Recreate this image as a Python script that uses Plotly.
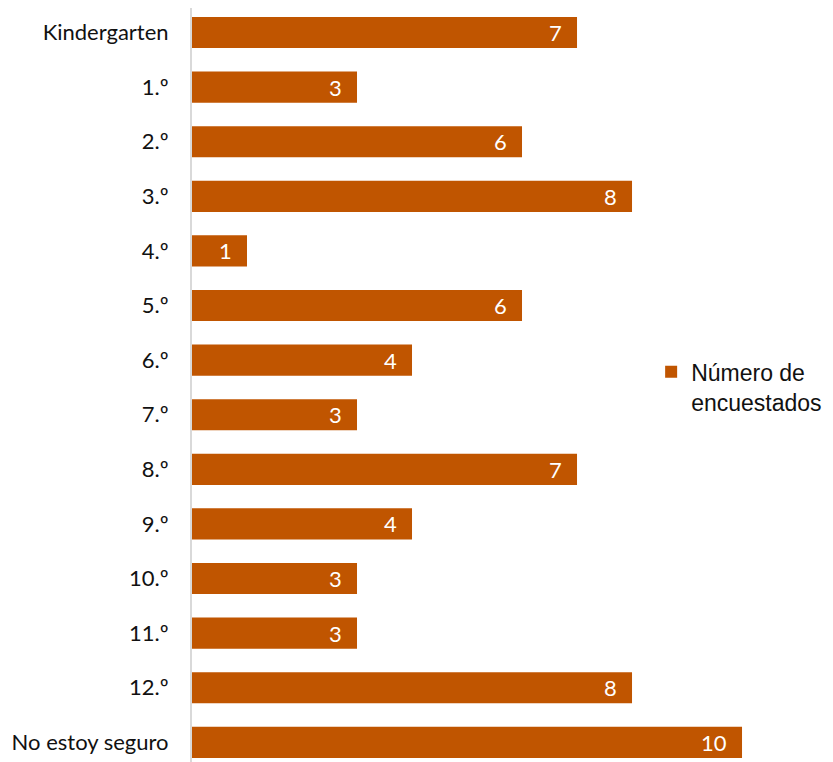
import plotly.graph_objects as go

categories = ["Kindergarten", "1.º", "2.º", "3.º", "4.º", "5.º", "6.º", "7.º",
              "8.º", "9.º", "10.º", "11.º", "12.º", "No estoy seguro"]
values = [7, 3, 6, 8, 1, 6, 4, 3, 7, 4, 3, 3, 8, 10]

bar_color = "#C05500"

fig = go.Figure()
fig.add_trace(go.Bar(
    y=categories, x=values, orientation="h",
    marker=dict(color=bar_color, line=dict(width=0)),
    name="Número de<br>encuestados",
    showlegend=True,
))

# value labels inside the bar ends
for c, v in zip(categories, values):
    fig.add_annotation(x=v, y=c, text=str(v), xanchor="right", xshift=-13,
                       showarrow=False,
                       font=dict(family="Lato, Noto Sans", size=22, color="white"))

fig.update_layout(
    width=833, height=762,
    margin=dict(l=184, r=36, t=0, b=0, autoexpand=False),
    paper_bgcolor="white", plot_bgcolor="white",
    bargap=0.43,
    showlegend=True,
    legend=dict(x=0.749, y=0.503, xanchor="left", yanchor="middle",
                valign="top",
                font=dict(family="Arial, Liberation Sans", size=23, color="#111"),
                itemsizing="constant"),
    xaxis=dict(range=[0, 11.145], visible=False, showgrid=False, zeroline=False),
    yaxis=dict(categoryorder="array", categoryarray=categories,
               range=[13.507, -0.449], showgrid=False, zeroline=False,
               showline=True, linecolor="#d9d9d9", linewidth=2,
               ticks="", ticklabelstandoff=17,
               tickfont=dict(family="Lato, Noto Sans", size=22, color="#111")),
)

fig.write_html("out.html")
